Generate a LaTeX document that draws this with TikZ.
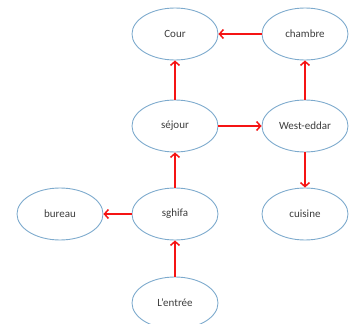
\documentclass[tikz,border=0pt]{standalone}
\usepackage{fontspec}
\setmainfont{Carlito}
\usetikzlibrary{arrows.meta,shapes.geometric}
\definecolor{ringblue}{RGB}{125,170,205}
\definecolor{labelgray}{RGB}{60,60,60}
\definecolor{linkred}{RGB}{245,20,20}
\tikzset{
  room/.style={draw=ringblue, line width=0.9pt, ellipse, minimum width=86pt, minimum height=52pt,
    inner sep=0pt, font=\fontsize{11}{13}\selectfont, text=labelgray},
  link/.style={draw=linkred, line width=1.8pt, -{Straight Barb[length=4pt,width=9pt,line width=1.5pt]}}
}
\begin{document}
\begin{tikzpicture}[x=1pt,y=-1pt]
\useasboundingbox (0,0) rectangle (357,324);
\node[room] (cour) at (175,34) {Cour};
\node[room] (chambre) at (305,34) {chambre};
\node[room] (sejour) at (175,126) {séjour};
\node[room] (west) at (305,126) {West-eddar};
\node[room] (bureau) at (60,214) {bureau};
\node[room] (sghifa) at (175,214) {sghifa};
\node[room] (cuisine) at (305,214) {cuisine};
\node[room] (entree) at (175,303) {L’entrée};
\draw[link] (chambre) -- (cour);
\draw[link] (sejour) -- (cour);
\draw[link] (west) -- (chambre);
\draw[link] (sejour) -- (west);
\draw[link] (west) -- (cuisine);
\draw[link] (sghifa) -- (sejour);
\draw[link] (sghifa) -- (bureau);
\draw[link] (entree) -- (sghifa);
\end{tikzpicture}
\end{document}
